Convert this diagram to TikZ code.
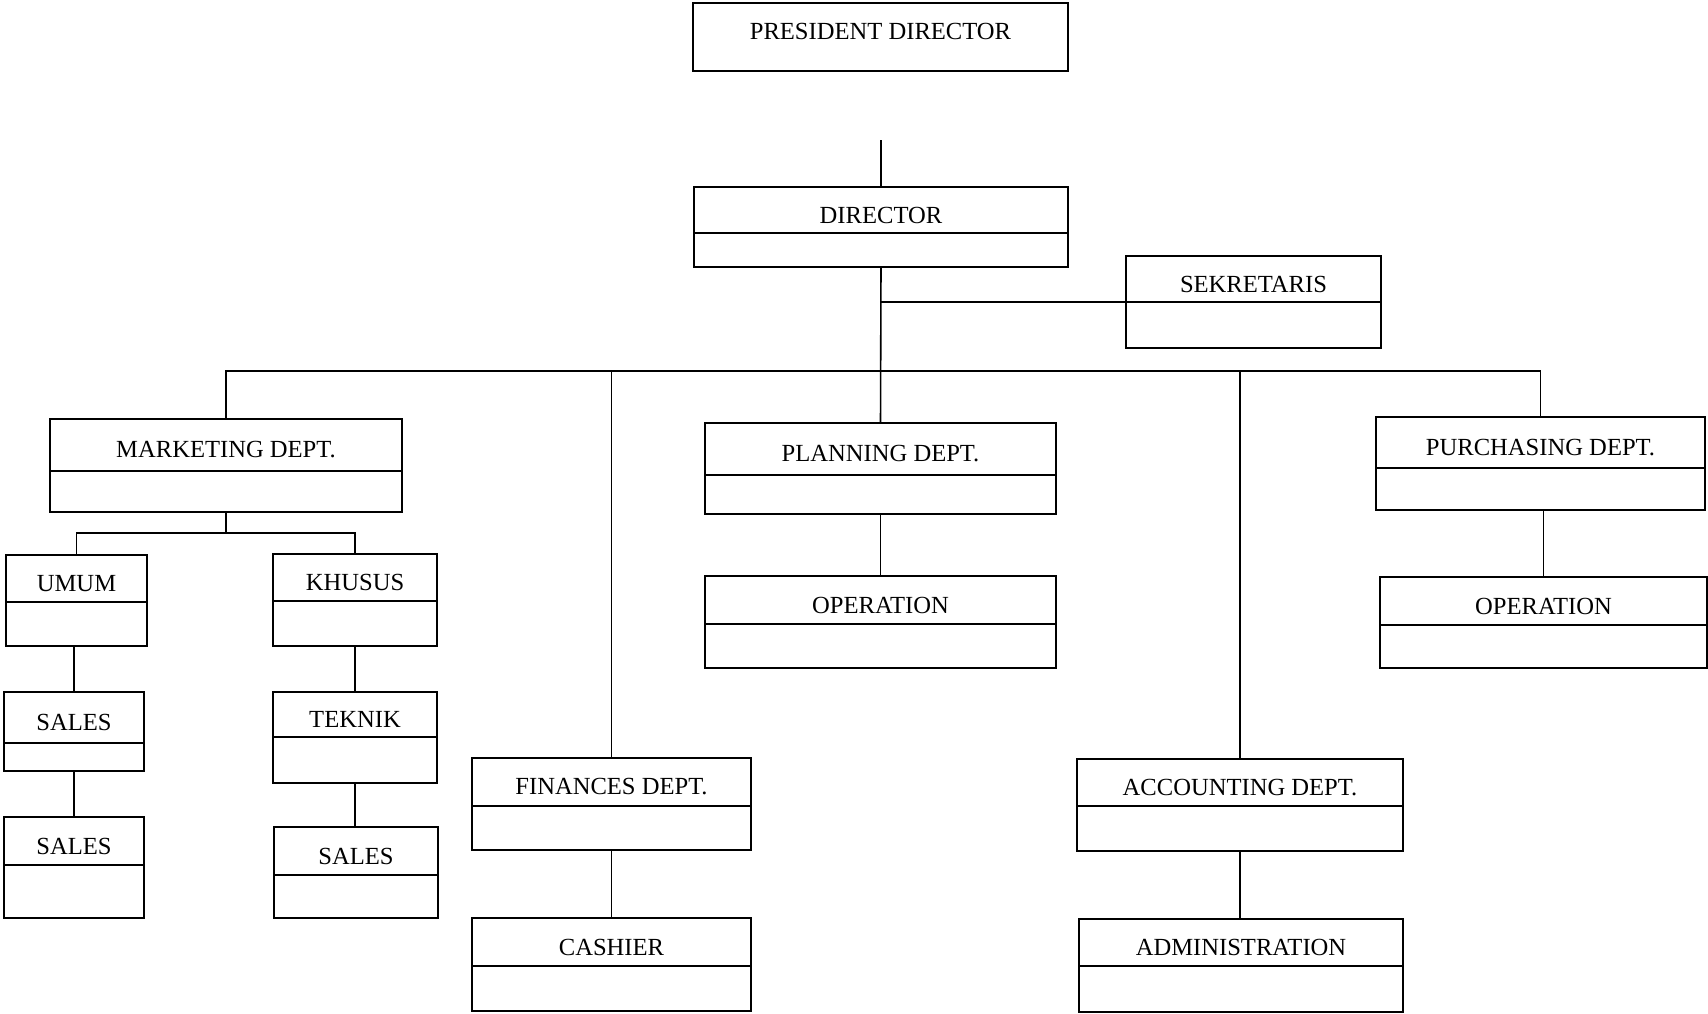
\documentclass[tikz,border=0pt]{standalone}
\usepackage{fontspec}
\setmainfont{Liberation Serif}
\usetikzlibrary{positioning, calc}
\tikzset{
  box/.style   = {draw, line width=1.1pt, rectangle, inner sep=0pt, outer sep=0pt},
  title/.style = {font=\fontsize{14}{16}\selectfont, inner sep=0pt},
  link/.style  = {draw, line width=0.9pt},
}
% \orgbox{name}{x1}{y1}{x2}{y2}{divider y}{text}
\newcommand{\orgbox}[7]{%
  \node[box, minimum width={(#4-#2)*0.02cm}, minimum height={(#5-#3)*0.02cm}]
    (#1) at ({(#2+#4)/2}, {(#3+#5)/2}) {};
  \draw[line width=1.1pt] (#2,#6) -- (#4,#6);
  \node[title] (#1-t) at ({(#2+#4)/2}, {(#3+#6)/2+5}) {#7};
}
\newcommand{\plainbox}[6]{%
  \node[box, minimum width={(#4-#2)*0.02cm}, minimum height={(#5-#3)*0.02cm}]
    (#1) at ({(#2+#4)/2}, {(#3+#5)/2}) {};
  \node[title] (#1-t) at ({(#2+#4)/2}, {(#3+#5)/2-6}) {#6};
}

\begin{document}
\begin{tikzpicture}[x=0.02cm, y=-0.02cm]
  \useasboundingbox (0,0) rectangle (1708,1014);
  % top
  \plainbox{pres}{693}{3}{1068}{71}{PRESIDENT DIRECTOR}
  \orgbox{dir}{694}{187}{1068}{267}{233}{DIRECTOR}
  \orgbox{sek}{1126}{256}{1381}{348}{302}{SEKRETARIS}
  % departments
  \orgbox{mkt}{50}{419}{402}{512}{471}{MARKETING DEPT.}
  \orgbox{plan}{705}{423}{1056}{514}{475}{PLANNING DEPT.}
  \orgbox{pur}{1376}{417}{1705}{510}{468}{PURCHASING DEPT.}
  \orgbox{fin}{472}{758}{751}{850}{806}{FINANCES DEPT.}
  \orgbox{acc}{1077}{759}{1403}{851}{806}{ACCOUNTING DEPT.}
  % sub units
  \orgbox{opplan}{705}{576}{1056}{668}{624}{OPERATION}
  \orgbox{oppur}{1380}{577}{1707}{668}{625}{OPERATION}
  \orgbox{umum}{6}{555}{147}{646}{602}{UMUM}
  \orgbox{khusus}{273}{554}{437}{646}{601}{KHUSUS}
  \orgbox{salesa}{4}{692}{144}{771}{743}{SALES}
  \orgbox{salesb}{4}{817}{144}{918}{865}{SALES}
  \orgbox{teknik}{273}{692}{437}{783}{737}{TEKNIK}
  \orgbox{salesc}{274}{827}{438}{918}{875}{SALES}
  \orgbox{cash}{472}{918}{751}{1011}{966}{CASHIER}
  \orgbox{adm}{1079}{919}{1403}{1012}{966}{ADMINISTRATION}
  % connectors
  \coordinate (presline) at (880,140);
  \coordinate (bus) at (0,371);
  \coordinate (mkjoin) at (0,533);
  \draw[link] (dir.north |- presline) -- (dir.north);
  \draw[link] (dir.south) -- (plan.north);
  \draw[link] (sek.west) -- (sek.west -| dir.south);
  \draw[link] (mkt.north) -- (mkt.north |- bus) -- (pur.north |- bus) -- (pur.north);
  \draw[link] (fin.north) -- (fin.north |- bus);
  \draw[link] (acc.north) -- (acc.north |- bus);
  \draw[link] (mkt.south) -- (mkt.south |- mkjoin);
  \draw[link] (umum.north) |- (mkt.south |- mkjoin) -| (khusus.north);
  \draw[link] (salesa.north) -- (salesa.north |- umum.south);
  \draw[link] (salesb.north) -- (salesb.north |- salesa.south);
  \draw[link] (teknik.north) -- (teknik.north |- khusus.south);
  \draw[link] (teknik.south) -- (teknik.south |- salesc.north);
  \draw[link] (plan.south) -- (opplan.north);
  \draw[link] (oppur.north) -- (oppur.north |- pur.south);
  \draw[link] (fin.south) -- (fin.south |- cash.north);
  \draw[link] (acc.south) -- (acc.south |- adm.north);
\end{tikzpicture}
\end{document}
